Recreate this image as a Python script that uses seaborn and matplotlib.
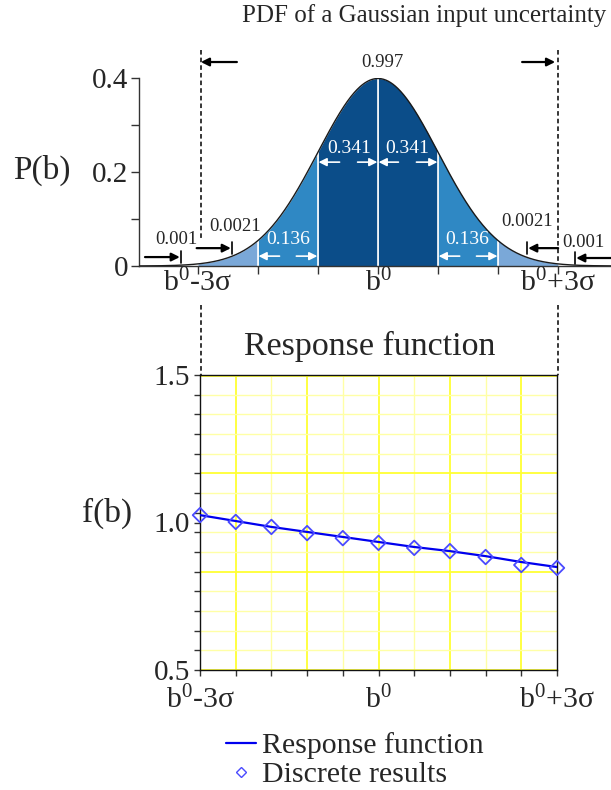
import numpy as np
import pandas as pd
import matplotlib
matplotlib.use("Agg")
import matplotlib.pyplot as plt
from matplotlib.lines import Line2D
import seaborn as sns

# ---------------- data ----------------
mu = 0.0
sigma = 1.0
pdf_xlim = (-3.98, 3.88)
region_bounds = [-3, -2, -1, 0, 1, 2, 3]
region_colors = ["#7aa8d8", "#2f88c4", "#0b4d89", "#0b4d89", "#2f88c4", "#7aa8d8"]
prob_labels = ["0.001", "0.0021", "0.136", "0.341", "0.341", "0.136", "0.0021", "0.001"]
total_label = "0.997"

b_positions = [-3.0, -2.4, -1.8, -1.2, -0.6, 0.0, 0.6, 1.2, 1.8, 2.4, 3.0]
response_vals = [1.025, 1.005, 0.985, 0.968, 0.951, 0.934, 0.917, 0.903, 0.886, 0.866, 0.849]
discrete_vals = [1.025, 1.002, 0.985, 0.964, 0.947, 0.931, 0.914, 0.903, 0.883, 0.856, 0.846]
x_tick_labels = ["b$^{0}$-3σ", "b$^{0}$", "b$^{0}$+3σ"]
x_tick_pos = [-3, 0, 3]
pdf_yticks = [0, 0.2, 0.4]
pdf_yticklabels = ["0", "0.2", "0.4"]
f_yticks = [0.5, 1.0, 1.5]
f_yticklabels = ["0.5", "1.0", "1.5"]

# ---------------- style ----------------
sns.set_style("white")
plt.rcParams["font.family"] = ["Liberation Serif", "DejaVu Serif"]
plt.rcParams["mathtext.fontset"] = "custom"
plt.rcParams["mathtext.rm"] = "Liberation Serif"
plt.rcParams["mathtext.it"] = "Liberation Serif:italic"
plt.rcParams["mathtext.bf"] = "Liberation Serif:bold"

W, H = 611, 790
fig = plt.figure(figsize=(W / 100, H / 100), dpi=100)

def fx(px):
    return px / W

def fy(py):
    return 1 - py / H

# ---------------- top axes: Gaussian PDF ----------------
ax1 = fig.add_axes([fx(139), fy(266), fx(611) - fx(139), fy(78) - fy(266)])
xs = np.linspace(pdf_xlim[0], pdf_xlim[1], 800)
pdf = np.exp(-0.5 * ((xs - mu) / sigma) ** 2) / (sigma * np.sqrt(2 * np.pi))
df_pdf = pd.DataFrame({"b": xs, "P": pdf})

for i in range(len(region_bounds) - 1):
    lo, hi = region_bounds[i], region_bounds[i + 1]
    m = (xs >= lo - 1e-9) & (xs <= hi + 1e-9)
    ax1.fill_between(xs[m], 0, pdf[m], color=region_colors[i], lw=0, zorder=1)
for xb in [-2, -1, 0, 1, 2]:
    yb = np.exp(-0.5 * ((xb - mu) / sigma) ** 2) / (sigma * np.sqrt(2 * np.pi))
    ax1.plot([xb, xb], [0, yb], color="white", lw=1.2, zorder=2)

sns.lineplot(data=df_pdf, x="b", y="P", color="#1a1a1a", lw=1.0, ax=ax1, zorder=3)
ax1.set_xlim(*pdf_xlim)
ax1.set_ylim(0, 0.4)
for s in ["top", "right"]:
    ax1.spines[s].set_visible(False)
for s in ["left", "bottom"]:
    ax1.spines[s].set_color("#333333")
    ax1.spines[s].set_linewidth(1.0)
ax1.set_xticks(region_bounds)
ax1.set_xticklabels([])
ax1.set_yticks(pdf_yticks)
ax1.set_yticklabels(pdf_yticklabels, fontsize=21)
ax1.set_yticks([0.1, 0.3], minor=True)
ax1.tick_params(axis="both", which="both", direction="out", length=6, width=1, color="#333333", pad=2, left=True, bottom=True)
ax1.set_xlabel("")
ax1.set_ylabel("")
for xp, lab in zip(x_tick_pos, x_tick_labels):
    ax1.text(xp, -0.037, lab, ha="center", va="center", fontsize=21.5, clip_on=False)

fig.text(fx(42), fy(170), "P(b)", ha="center", va="center", fontsize=24)
fig.text(fx(424), fy(16), "PDF of a Gaussian input uncertainty", ha="center", va="center", fontsize=18)

# annotations (data coords of top axes)
def arrow(ax, x0, x1, y, color="black", lw=1.6, bar=None):
    ax.annotate("", xy=(x1, y), xytext=(x0, y),
                arrowprops=dict(arrowstyle="-|>", color=color, lw=lw,
                                mutation_scale=12, shrinkA=0, shrinkB=0),
                annotation_clip=False, zorder=5)
    if bar is not None:
        ax.plot([bar, bar], [y - 0.013, y + 0.013], color=color, lw=1.2, clip_on=False, zorder=5)

ax1.text(0.07, 0.434, total_label, ha="center", va="center", fontsize=13.5)
arrow(ax1, -2.35, -2.95, 0.434)
arrow(ax1, 2.4, 2.95, 0.434)

# left tails
ax1.text(-3.35, 0.057, prob_labels[0], ha="center", va="center", fontsize=13.5)
arrow(ax1, -3.88, -3.30, 0.019, bar=-3.28)
ax1.text(-2.38, 0.083, prob_labels[1], ha="center", va="center", fontsize=13.5)
arrow(ax1, -3.02, -2.45, 0.038, bar=-2.43)
# inner white labels
ax1.text(-1.5, 0.056, prob_labels[2], ha="center", va="center", fontsize=14, color="white")
arrow(ax1, -1.64, -1.99, 0.021, color="white", lw=1.2)
arrow(ax1, -1.36, -1.01, 0.021, color="white", lw=1.2)
ax1.text(-0.48, 0.251, prob_labels[3], ha="center", va="center", fontsize=14, color="white")
arrow(ax1, -0.64, -0.99, 0.221, color="white", lw=1.2)
arrow(ax1, -0.34, -0.01, 0.221, color="white", lw=1.2)
ax1.text(0.48, 0.251, prob_labels[4], ha="center", va="center", fontsize=14, color="white")
arrow(ax1, 0.34, 0.01, 0.221, color="white", lw=1.2)
arrow(ax1, 0.64, 0.99, 0.221, color="white", lw=1.2)
ax1.text(1.48, 0.056, prob_labels[5], ha="center", va="center", fontsize=14, color="white")
arrow(ax1, 1.36, 1.01, 0.021, color="white", lw=1.2)
arrow(ax1, 1.64, 1.99, 0.021, color="white", lw=1.2)
# right tails
ax1.text(2.48, 0.094, prob_labels[6], ha="center", va="center", fontsize=13.5)
arrow(ax1, 3.0, 2.50, 0.038, bar=2.48)
ax1.text(3.42, 0.051, prob_labels[7], ha="center", va="center", fontsize=13.5)
arrow(ax1, 3.88, 3.30, 0.017, bar=3.28)

# ---------------- bottom axes: response function ----------------
ax2 = fig.add_axes([fx(200), fy(670), fx(557) - fx(200), fy(375) - fy(670)])
ax2.set_xlim(-3, 3)
ax2.set_ylim(0.5, 1.5)

# grid
for i, xb in enumerate(b_positions):
    if i % 2 == 1:
        ax2.axvline(xb, color="#ffff33", lw=1.3, zorder=0)
    elif 0 < i < len(b_positions) - 1:
        ax2.axvline(xb, color="#ffffa6", lw=1.0, zorder=0)
for k in range(1, 15):
    yv = 0.5 + k / 15
    if k in (5, 10):
        ax2.axhline(yv, color="#ffff33", lw=1.3, zorder=0)
    else:
        ax2.axhline(yv, color="#ffffa6", lw=1.0, zorder=0)
ax2.axhline(0.5 + 0.5 / 295, color="#ffff33", lw=1.3, zorder=0)
ax2.axhline(1.5 - 0.5 / 295, color="#ffff33", lw=1.3, zorder=0)

df_resp = pd.DataFrame({"b": b_positions, "f": response_vals})
df_disc = pd.DataFrame({"b": b_positions, "f": discrete_vals})
sns.lineplot(data=df_resp, x="b", y="f", color="#0000ee", lw=1.6, ax=ax2, zorder=3, legend=False)
sns.scatterplot(data=df_disc, x="b", y="f", marker="D", s=55, facecolors="none",
                edgecolor="#4a4aff", linewidth=1.3, ax=ax2, zorder=4, legend=False,
                clip_on=False)

for s in ax2.spines.values():
    s.set_color("#111111")
    s.set_linewidth(1.0)
ax2.set_xticks(b_positions)
ax2.set_xticklabels([])
ax2.set_yticks(f_yticks)
ax2.set_yticklabels(f_yticklabels, fontsize=21)
ax2.set_yticks([0.5 + k / 15 for k in range(1, 15)], minor=True)
ax2.tick_params(axis="both", which="both", direction="out", length=4, width=1, color="#333333", pad=3, left=True, bottom=True)
ax2.set_xlabel("")
ax2.set_ylabel("")
for xp, lab in zip(x_tick_pos, x_tick_labels):
    ax2.text(xp, 0.5 - 30 / 295, lab, ha="center", va="center", fontsize=21.5, clip_on=False)

fig.text(fx(107), fy(513), "f(b)", ha="center", va="center", fontsize=24)
fig.text(fx(370), fy(346), "Response function", ha="center", va="center", fontsize=24.5)

# dashed guide lines
for xpx, top_end in [(200.5, 238), (558, 262)]:
    fig.add_artist(Line2D([fx(xpx), fx(xpx)], [fy(50), fy(top_end)], color="black",
                          lw=1.1, ls=(0, (3, 2))))
    fig.add_artist(Line2D([fx(xpx), fx(xpx)], [fy(305), fy(375)], color="black",
                          lw=1.1, ls=(0, (3, 2))))

# legend
handles = [Line2D([], [], color="#0000ee", lw=1.6),
           Line2D([], [], marker="D", ls="none", markerfacecolor="none",
                  markeredgecolor="#4a4aff", markersize=5, markeredgewidth=1.0)]
fig.legend(handles, ["Response function", "Discrete results"], loc="upper left",
           bbox_to_anchor=(fx(226), fy(732)), frameon=False, fontsize=21.5,
           handlelength=1.0, handletextpad=0.22, labelspacing=0.08,
           borderpad=0, borderaxespad=0)

fig.savefig("out.png", dpi=100)
